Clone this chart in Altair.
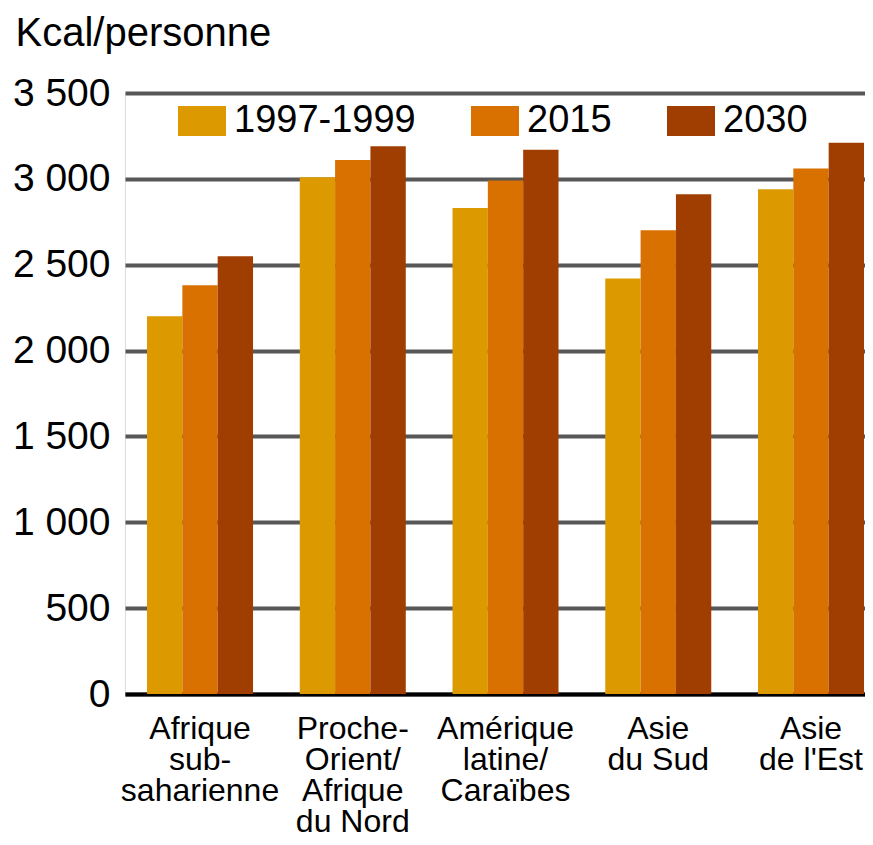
import altair as alt
import pandas as pd

regions = ["Afrique\nsub-\nsaharienne", "Proche-\nOrient/\nAfrique\ndu Nord",
           "Amérique\nlatine/\nCaraïbes", "Asie\ndu Sud", "Asie\nde l'Est"]
periods = ["1997-1999", "2015", "2030"]
v_1997 = [2200, 3010, 2830, 2420, 2940]
v_2015 = [2380, 3110, 2990, 2700, 3060]
v_2030 = [2550, 3190, 3170, 2910, 3210]
colors = ["#DC9A00", "#D97100", "#A03D00"]

rows = []
for series, vals in zip(periods, [v_1997, v_2015, v_2030]):
    for r, v in zip(regions, vals):
        rows.append({"region": r, "period": series, "kcal": v})
df = pd.DataFrame(rows)

FONT = "Liberation Sans"

chart = alt.Chart(df).mark_bar().encode(
    x=alt.X("region:N", sort=regions,
            scale=alt.Scale(paddingInner=0.306, paddingOuter=0.0753, align=0.957),
            axis=alt.Axis(title=None, labelAngle=0, ticks=False, tickSize=0,
                          labelPadding=44, labelBaseline="alphabetic",
                          labelFontSize=32, labelLineHeight=31, labelColor="black",
                          labelFont=FONT, labelAlign="center",
                          domain=True, domainColor="black", domainWidth=4,
                          labelExpr="split(datum.value, '\\n')")),
    xOffset=alt.XOffset("period:N", sort=periods,
                        scale=alt.Scale(paddingInner=0, paddingOuter=0)),
    y=alt.Y("kcal:Q", scale=alt.Scale(domain=[0, 3500], nice=False),
            axis=alt.Axis(values=[0, 500, 1000, 1500, 2000, 2500, 3000, 3500],
                          title="Kcal/personne", titleAngle=0, titleAlign="left",
                          titleBaseline="alphabetic", titleX=-110, titleY=-48,
                          titleFontSize=40, titleFontWeight="normal", titleFont=FONT,
                          titleColor="black",
                          labelExpr="replace(format(datum.value, ','), ',', ' ')",
                          labelFontSize=39, labelFont=FONT, labelColor="black",
                          labelPadding=15, labelBaseline="middle",
                          ticks=False, domain=False,
                          grid=True, gridColor="#575757", gridWidth=4)),
    color=alt.Color("period:N", sort=periods,
                    scale=alt.Scale(domain=periods, range=colors),
                    legend=alt.Legend(title=None, orient="none", direction="horizontal",
                                      legendX=53, legendY=4,
                                      symbolType="M-1,-0.625H1V0.625H-1Z",
                                      symbolSize=2304, symbolStrokeWidth=0,
                                      symbolOpacity=1,
                                      labelFontSize=38, labelFont=FONT,
                                      labelColor="black", labelOffset=8,
                                      labelLimit=400, columnPadding=55,
                                      padding=0, offset=0)),
).properties(
    width=740, height=601,
    autosize=alt.AutoSizeParams(type="none"),
    padding={"left": 117, "top": 85, "right": 0, "bottom": 143},
).configure_view(stroke=None).configure(background="white")

chart.save("out.html", embed_options={"renderer": "svg", "actions": False})
